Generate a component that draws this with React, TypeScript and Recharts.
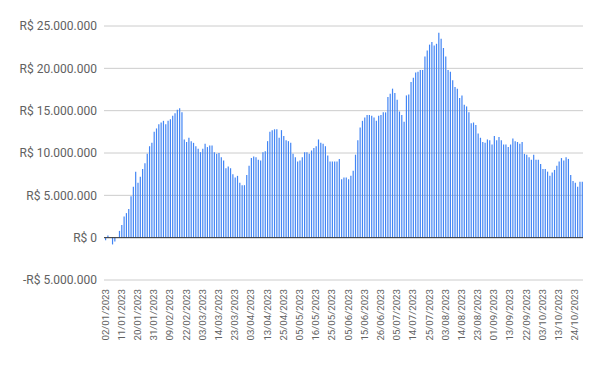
import React from "react";
import {
  BarChart,
  Bar,
  XAxis,
  YAxis,
  CartesianGrid,
  ReferenceLine,
} from "recharts";

// business days (dd) per month, 2023
const janDays = [2, 3, 4, 5, 6, 9, 10, 11, 12, 13, 16, 17, 18, 19, 20, 23, 24, 25, 26, 27, 30, 31];
const febDays = [1, 2, 3, 6, 7, 8, 9, 10, 13, 14, 15, 16, 17, 22, 23, 24, 27, 28];
const marDays = [1, 2, 3, 6, 7, 8, 9, 10, 13, 14, 15, 16, 17, 20, 21, 22, 23, 24, 27, 28, 29, 30, 31];
const aprDays = [3, 4, 5, 6, 10, 11, 12, 13, 14, 17, 18, 19, 20, 24, 25, 26, 27, 28];
const mayDays = [2, 3, 4, 5, 8, 9, 10, 11, 12, 15, 16, 17, 18, 19, 22, 23, 24, 25, 26, 29, 30, 31];
const junDays = [1, 2, 5, 6, 7, 9, 12, 13, 14, 15, 16, 19, 20, 21, 22, 23, 26, 27, 28, 29, 30];
const julDays = [3, 4, 5, 6, 7, 10, 11, 12, 13, 14, 17, 18, 19, 20, 21, 24, 25, 26, 27, 28, 31];
const augDays = [1, 2, 3, 4, 7, 8, 9, 10, 11, 14, 15, 16, 17, 18, 21, 22, 23, 24, 25, 28, 29, 30, 31];
const sepDays = [1, 4, 5, 6, 8, 11, 12, 13, 14, 15, 18, 19, 20, 21, 22, 25, 26, 27, 28, 29];
const octDays = [2, 3, 4, 5, 6, 9, 10, 11, 13, 16, 17, 18, 19, 20, 23, 24, 25, 26, 27];

// saldo em milhões de R$
const janVals = [-0.3, 0.25, 0, -0.8, -0.45, 0, 0.8, 1.5, 2.5, 2.9, 3.4, 4.9, 6.0, 7.8, 6.5, 7.2, 8.1, 8.8, 9.9, 10.8, 11.2, 12.5];
const febVals = [12.9, 13.4, 13.6, 13.8, 13.4, 13.8, 14.0, 14.4, 14.7, 15.1, 15.3, 14.8, 11.6, 11.3, 11.8, 11.4, 11.2, 10.8];
const marVals = [10.5, 10.1, 10.5, 11.1, 10.7, 10.9, 10.9, 10.1, 9.9, 10.0, 9.5, 9.1, 8.2, 8.4, 8.2, 7.5, 7.1, 7.3, 6.5, 6.2, 6.2, 7.4, 8.5];
const aprVals = [9.4, 9.6, 9.5, 9.2, 9.1, 10.1, 10.2, 11.4, 12.5, 12.7, 12.8, 12.8, 11.8, 12.7, 12.0, 11.5, 11.4, 11.2];
const mayVals = [9.9, 9.5, 9.0, 9.1, 9.5, 10.1, 10.1, 9.9, 10.3, 10.6, 10.8, 11.6, 11.2, 11.1, 10.8, 9.7, 9.0, 9.0, 9.0, 9.0, 9.3, 6.9];
const junVals = [7.1, 7.1, 6.9, 7.3, 7.9, 9.8, 11.5, 13.0, 13.8, 14.2, 14.5, 14.5, 14.4, 14.2, 13.8, 14.4, 14.5, 14.8, 14.8, 16.6, 17.0];
const julVals = [17.6, 17.1, 16.3, 14.9, 14.5, 13.7, 16.8, 16.9, 18.4, 18.9, 19.5, 19.6, 19.8, 19.8, 21.4, 22.1, 22.8, 23.1, 22.7, 22.9, 24.2];
const augVals = [23.5, 22.4, 21.4, 19.8, 19.6, 18.6, 17.8, 17.6, 16.5, 16.8, 15.7, 15.5, 14.8, 13.5, 13.6, 13.3, 12.3, 11.8, 11.3, 11.2, 11.6, 11.5, 11.0];
const sepVals = [12.0, 11.5, 11.9, 11.5, 11.0, 11.0, 10.7, 11.0, 11.7, 11.4, 11.3, 11.1, 11.3, 9.9, 9.8, 9.5, 9.2, 9.8, 9.2, 9.2];
const octVals = [8.7, 8.1, 8.1, 7.8, 7.3, 7.7, 8.0, 8.5, 9.0, 9.4, 9.1, 9.5, 9.3, 7.4, 6.7, 6.5, 6.0, 6.6, 6.6];

const yTicks = [-5000000, 0, 5000000, 10000000, 15000000, 20000000, 25000000];

const months = [
  [janDays, janVals],
  [febDays, febVals],
  [marDays, marVals],
  [aprDays, aprVals],
  [mayDays, mayVals],
  [junDays, junVals],
  [julDays, julVals],
  [augDays, augVals],
  [sepDays, sepVals],
  [octDays, octVals],
] as const;

const pad = (n: number) => (n < 10 ? "0" + n : "" + n);

const data = months.flatMap(([days, vals], m) =>
  days.map((d, i) => ({
    date: `${pad(d)}/${pad(m + 1)}/2023`,
    value: vals[i] * 1000000,
  }))
);

const fmtBRL = (v: number) => {
  if (v === 0) return "R$ 0";
  const s = String(Math.abs(v)).replace(/\B(?=(\d{3})+(?!\d))/g, ".");
  return (v < 0 ? "-" : "") + "R$ " + s;
};

const XTick = ({ x, y, payload }: any) => {
  const ty = y + 9;
  return (
    <text
      x={x}
      y={ty}
      transform={`rotate(-90, ${x}, ${ty})`}
      textAnchor="end"
      dy="0.35em"
      fill="#616161"
      fontSize={9.7}
      fontFamily="Roboto"
    >
      {payload.value}
    </text>
  );
};

export default function App() {
  return (
    <div style={{ width: 600, height: 371, background: "#fff" }}>
      <style>{"body{margin:0}"}</style>
      <BarChart
        width={600}
        height={371}
        data={data}
        margin={{ top: 26, right: 17, bottom: 0, left: 0 }}
        barSize={1.2}
      >
        <CartesianGrid vertical={false} stroke="#cccccc" />
        <XAxis
          dataKey="date"
          interval={6}
          height={91}
          tickSize={0}
          tickMargin={0}
          axisLine={false}
          tickLine={false}
          tick={<XTick />}
        />
        <YAxis
          width={104}
          domain={[-5000000, 25000000]}
          ticks={yTicks}
          tickFormatter={fmtBRL}
          tickSize={0}
          tickMargin={7}
          axisLine={false}
          tickLine={false}
          tick={{ fill: "#616161", fontSize: 12, fontFamily: "Roboto" }}
        />
        <ReferenceLine y={0} stroke="#333333" />
        <Bar dataKey="value" fill="#4285f4" isAnimationActive={false} />
      </BarChart>
    </div>
  );
}
